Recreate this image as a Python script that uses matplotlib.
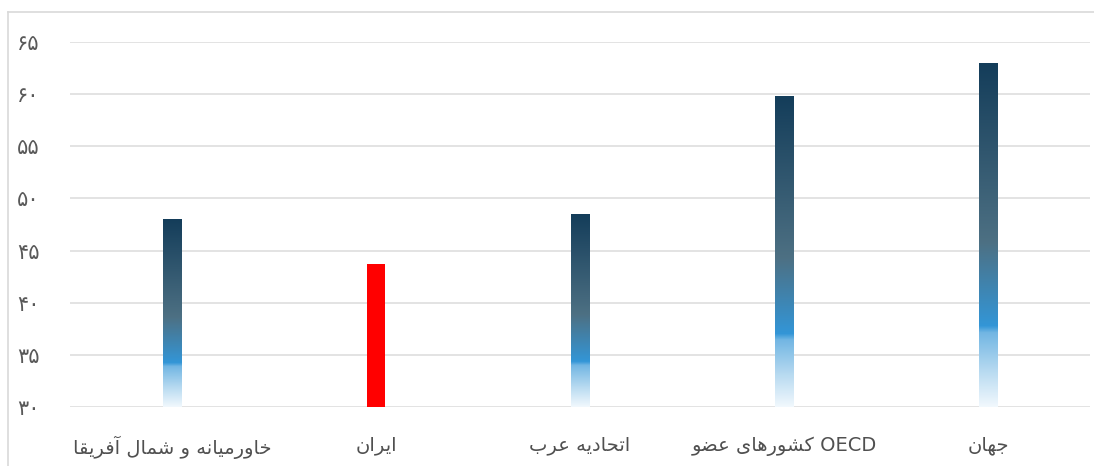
import numpy as np
import matplotlib
matplotlib.use('Agg')
import matplotlib.pyplot as plt
from matplotlib.colors import LinearSegmentedColormap
from matplotlib.lines import Line2D

plt.rcParams['font.family'] = ['DejaVu Sans']

# data
categories = ['خاورمیانه و شمال آفریقا', 'ایران', 'اتحادیه عرب', 'کشورهای عضو', 'جهان']
latin_suffix = ['', '', '', 'OECD', '']
values = [48.0, 43.7, 48.5, 59.8, 62.9]
highlight = [False, True, False, False, False]
yticks = [30, 35, 40, 45, 50, 55, 60, 65]

# simple persian shaping (matplotlib does no arabic shaping / bidi)
FORMS = {
    'ا': ('\uFE8D', '\uFE8E'), 'آ': ('\uFE81', '\uFE82'),
    'د': ('\uFEA9', '\uFEAA'), 'ر': ('\uFEAD', '\uFEAE'), 'و': ('\uFEED', '\uFEEE'),
    'ب': ('\uFE8F', '\uFE90', '\uFE91', '\uFE92'),
    'ت': ('\uFE95', '\uFE96', '\uFE97', '\uFE98'),
    'ج': ('\uFE9D', '\uFE9E', '\uFE9F', '\uFEA0'),
    'ح': ('\uFEA1', '\uFEA2', '\uFEA3', '\uFEA4'),
    'خ': ('\uFEA5', '\uFEA6', '\uFEA7', '\uFEA8'),
    'ش': ('\uFEB5', '\uFEB6', '\uFEB7', '\uFEB8'),
    'ض': ('\uFEBD', '\uFEBE', '\uFEBF', '\uFEC0'),
    'ع': ('\uFEC9', '\uFECA', '\uFECB', '\uFECC'),
    'ف': ('\uFED1', '\uFED2', '\uFED3', '\uFED4'),
    'ق': ('\uFED5', '\uFED6', '\uFED7', '\uFED8'),
    'ل': ('\uFEDD', '\uFEDE', '\uFEDF', '\uFEE0'),
    'م': ('\uFEE1', '\uFEE2', '\uFEE3', '\uFEE4'),
    'ن': ('\uFEE5', '\uFEE6', '\uFEE7', '\uFEE8'),
    'ه': ('\uFEE9', '\uFEEA', '\uFEEB', '\uFEEC'),
    'ی': ('\uFBFC', '\uFBFD', '\uFBFE', '\uFBFF'),
    'ک': ('\uFB8E', '\uFB8F', '\uFB90', '\uFB91'),
}


def shape(s):
    out = []
    for i, c in enumerate(s):
        if c not in FORMS:
            out.append(c)
            continue
        f = FORMS[c]
        prev = s[i - 1] if i > 0 else ''
        nxt = s[i + 1] if i + 1 < len(s) else ''
        jp = prev in FORMS and len(FORMS[prev]) == 4
        jn = len(f) == 4 and nxt in FORMS
        if jp and jn:
            out.append(f[3])
        elif jp:
            out.append(f[1])
        elif jn:
            out.append(f[2])
        else:
            out.append(f[0])
    return ''.join(out)[::-1]


def fa_digits(n):
    return ''.join('۰۱۲۳۴۵۶۷۸۹'[int(d)] for d in str(n))


labels = []
for c, suf in zip(categories, latin_suffix):
    t = shape(c)
    if suf:
        t = t + ' ' + suf
    labels.append(t)

grad = LinearSegmentedColormap.from_list('g', [
    (0.0, '#143d5a'), (0.52, '#4d7083'), (0.765, '#3396d7'),
    (0.785, '#72b6e3'), (0.9, '#b9dbf1'), (1.0, '#f1f8fd')])

fig = plt.figure(figsize=(10.94, 4.66), dpi=100)
ax = fig.add_axes([70 / 1094, 1 - 407 / 466, 1020 / 1094, 365 / 466])
ax.set_xlim(-0.5, len(values) - 0.5)
ax.set_ylim(30, 65)

x = np.arange(len(values))
w = 0.093
g = np.linspace(0, 1, 256).reshape(-1, 1)
for xi, v, h in zip(x, values, highlight):
    if h:
        ax.bar(xi, v - 30, bottom=30, width=w, color='#ff0000', zorder=3)
    else:
        ax.imshow(g, cmap=grad, aspect='auto', extent=(xi - w / 2, xi + w / 2, 30, v),
                  origin='upper', zorder=3, interpolation='bilinear')

ax.set_yticks(yticks)
ax.set_yticklabels([fa_digits(t) for t in yticks], fontsize=15, color='#595959')
ax.yaxis.grid(True, color='#dedede', linewidth=1.2)
ax.set_axisbelow(True)
ax.tick_params(axis='y', length=0, pad=30)
for lab in ax.get_yticklabels():
    lab.set_horizontalalignment('center')
ax.set_xticks(x)
ax.set_xticklabels(labels, fontsize=14, color='#505050')
ax.tick_params(axis='x', length=0, pad=21)
for s in ax.spines.values():
    s.set_visible(False)

# chart border
fig.add_artist(Line2D([8 / 1094, 1], [1 - 12 / 466] * 2, color='#d9d9d9', lw=1.2))
fig.add_artist(Line2D([8 / 1094] * 2, [0, 1 - 12 / 466], color='#d9d9d9', lw=1.2))

fig.savefig('out.png', dpi=100, facecolor='white')
